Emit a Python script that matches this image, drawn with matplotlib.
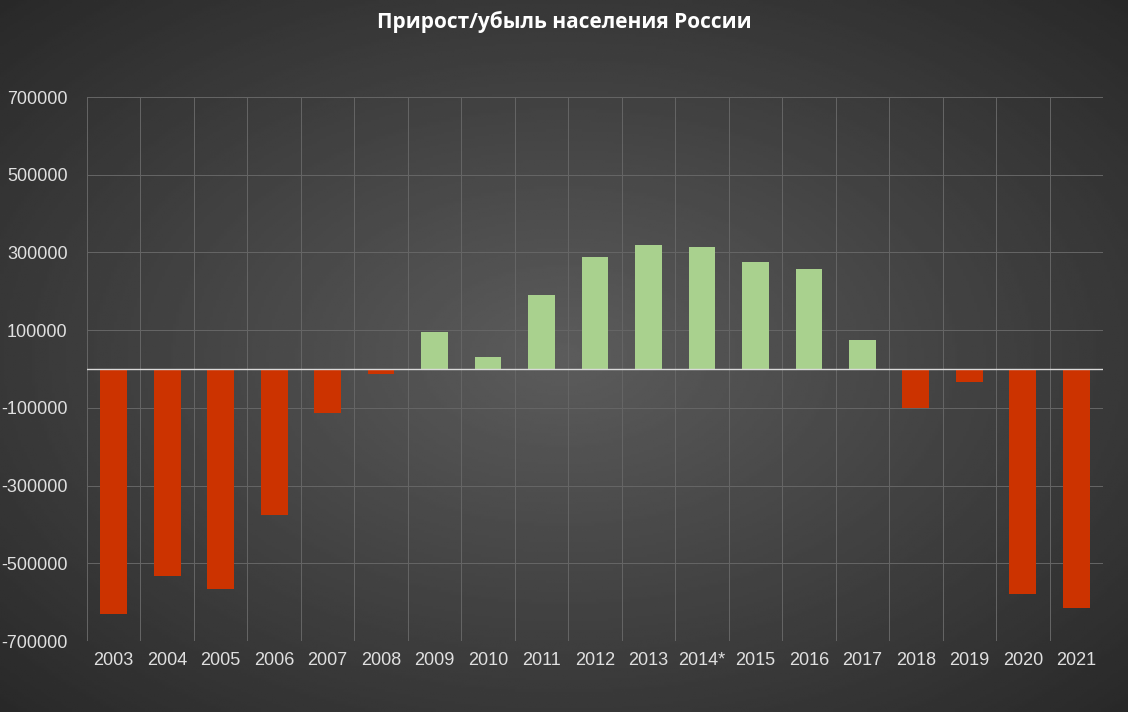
import numpy as np
import matplotlib.pyplot as plt

plt.rcParams['font.family'] = ['Liberation Sans', 'DejaVu Sans']

years = ['2003', '2004', '2005', '2006', '2007', '2008', '2009', '2010', '2011', '2012',
         '2013', '2014*', '2015', '2016', '2017', '2018', '2019', '2020', '2021']
values = [-630000, -532000, -566000, -375000, -113000, -13000, 95000, 31000, 190000, 288000,
          319000, 314000, 275000, 257000, 75000, -100000, -33000, -578000, -614000]

fig = plt.figure(figsize=(11.28, 7.12), dpi=100)

# radial gradient background
bg = fig.add_axes([0, 0, 1, 1])
yy, xx = np.mgrid[-1:1:300j, -1:1:400j]
r = np.sqrt(xx**2 + yy**2) / np.sqrt(2)
bg.imshow(0.36 - 0.2 * r, cmap='gray', vmin=0, vmax=1, aspect='auto', extent=[0, 1, 0, 1])
bg.axis('off')

ax = fig.add_axes([87/1128, 1 - 641/712, (1103-87)/1128, (641-97)/712])
ax.patch.set_alpha(0)

colors = ['#a9d18e' if v > 0 else '#cc3300' for v in values]
x = np.arange(len(years))
ax.bar(x, values, width=0.5, color=colors, zorder=3)
ax.axhline(0, color='#d9d9d9', lw=1, zorder=4)

ax.set_xlim(-0.5, len(years) - 0.5)
ax.set_ylim(-700000, 700000)
ax.set_yticks(np.arange(-700000, 700001, 200000))
ax.set_yticklabels([str(v) for v in np.arange(-700000, 700001, 200000)])
ax.set_xticks(x)
ax.set_xticklabels(years)
ax.set_xticks(np.arange(-0.5, len(years)), minor=True)
ax.grid(True, axis='y', color='#666666', lw=0.7, zorder=0)
ax.grid(True, axis='x', which='minor', color='#666666', lw=0.7, zorder=0)
ax.tick_params(which='both', length=0, colors='#e0e0e0', labelsize=13)
ax.tick_params(axis='y', pad=14)
ax.tick_params(axis='x', pad=8)
for s in ax.spines.values():
    s.set_visible(False)

fig.text(0.5, 1 - 22/712, 'Прирост/убыль населения России', ha='center', va='center',
         color='white', fontsize=15, fontweight='bold', family=['Open Sans', 'DejaVu Sans'])

fig.savefig('out.png', dpi=100)
